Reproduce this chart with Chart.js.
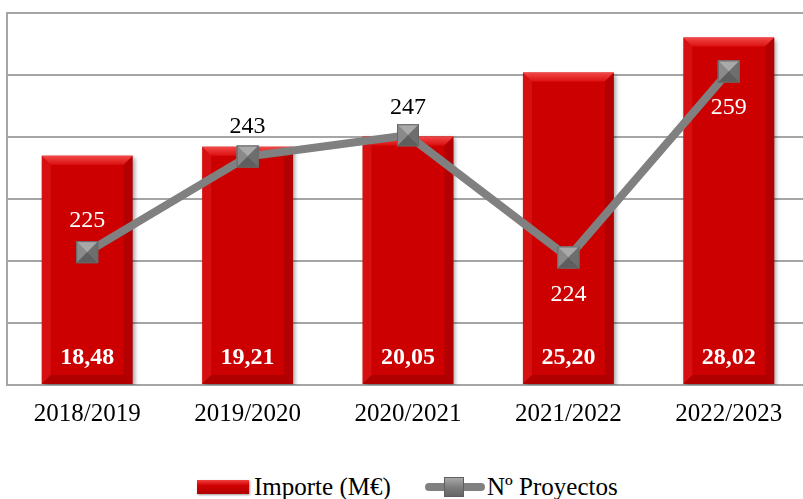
<!DOCTYPE html>
<html>
<head>
<meta charset="utf-8">
<script src="https://cdn.jsdelivr.net/npm/chart.js@4"></script>
<style>
  html, body { margin: 0; padding: 0; background: #fff; overflow: hidden; width: 803px; height: 499px; }
  #wrap { position: absolute; left: 0; top: 0; width: 820px; height: 453px; }
  .legend { position: absolute; top: 472px; height: 30px; font-family: "Liberation Serif", serif; font-size: 25px; color: #000; }
  .lg-item { position: absolute; top: 0; white-space: nowrap; line-height: 30px; }
  .lg-bar { position: absolute; top: 8px; width: 52px; height: 14px; background: linear-gradient(#f04040, #d00000 40%, #b00000); box-shadow: 1px 1px 2px rgba(0,0,0,0.4); }
  .lg-line { position: absolute; top: 11px; width: 60px; height: 8px; border-radius: 4px; background: #808080; }
  .lg-mark { position: absolute; top: 5px; left: 19px; width: 20px; height: 20px; background: linear-gradient(#a8a8a8, #7a7a7a 55%, #666); border: 1px solid #5f5f5f; box-sizing: border-box; }
</style>
</head>
<body>
<div id="wrap"><canvas id="chart" width="820" height="453"></canvas></div>
<div class="legend">
  <div class="lg-item" style="left:197px"><span class="lg-bar" style="left:0"></span><span style="position:absolute;left:57px">Importe (M€)</span></div>
  <div class="lg-item" style="left:425px"><span class="lg-line" style="left:0"></span><span class="lg-mark"></span><span style="position:absolute;left:62px">Nº Proyectos</span></div>
</div>
<script>
const categories = ["2018/2019", "2019/2020", "2020/2021", "2021/2022", "2022/2023"];
const importe = [18.48, 19.21, 20.05, 25.20, 28.02];
const proyectos = [225, 243, 247, 224, 259];
const importeLabels = ["18,48", "19,21", "20,05", "25,20", "28,02"];

const FONT = "'Liberation Serif', serif";
Chart.defaults.font.family = FONT;

// bevel + shadow on bars, bevel on square markers, value labels
const decorPlugin = {
  id: "decor",
  beforeDatasetDraw(chart, args) {
    if (chart.data.datasets[args.index].type === "bar") {
      const ctx = chart.ctx;
      ctx.save();
      ctx.shadowColor = "rgba(0,0,0,0.35)";
      ctx.shadowBlur = 4;
      ctx.shadowOffsetX = 2;
      ctx.shadowOffsetY = 2;
    }
  },
  afterDatasetDraw(chart, args) {
    const ctx = chart.ctx;
    const ds = chart.data.datasets[args.index];
    if (ds.type === "bar") {
      ctx.restore();
      args.meta.data.forEach((bar) => {
        const l = bar.x - bar.width / 2, r = bar.x + bar.width / 2;
        const t = bar.y, b = bar.base, e = 9;
        ctx.save();
        let g = ctx.createLinearGradient(0, t, 0, t + e);
        g.addColorStop(0, "#f24848");
        g.addColorStop(1, "#dc1010");
        ctx.fillStyle = g;
        ctx.beginPath();
        ctx.moveTo(l, t); ctx.lineTo(r, t); ctx.lineTo(r - e, t + e); ctx.lineTo(l + e, t + e);
        ctx.closePath(); ctx.fill();
        ctx.fillStyle = "rgba(255,80,80,0.2)";
        ctx.beginPath();
        ctx.moveTo(l, t); ctx.lineTo(l + e, t + e); ctx.lineTo(l + e, b - e); ctx.lineTo(l, b);
        ctx.closePath(); ctx.fill();
        ctx.fillStyle = "rgba(90,0,0,0.22)";
        ctx.beginPath();
        ctx.moveTo(r, t); ctx.lineTo(r - e, t + e); ctx.lineTo(r - e, b - e); ctx.lineTo(r, b);
        ctx.closePath(); ctx.fill();
        ctx.fillStyle = "rgba(90,0,0,0.25)";
        ctx.beginPath();
        ctx.moveTo(l, b); ctx.lineTo(l + e, b - e); ctx.lineTo(r - e, b - e); ctx.lineTo(r, b);
        ctx.closePath(); ctx.fill();
        ctx.restore();
      });
    } else {
      args.meta.data.forEach((pt) => {
        const s = 11, x = pt.x, y = pt.y;
        ctx.save();
        ctx.fillStyle = "#7c7c7c";
        ctx.fillRect(x - s, y - s, 2 * s, 2 * s);
        const tri = (ax, ay, bx, by, col) => {
          ctx.fillStyle = col;
          ctx.beginPath(); ctx.moveTo(ax, ay); ctx.lineTo(bx, by); ctx.lineTo(x, y); ctx.closePath(); ctx.fill();
        };
        tri(x - s, y - s, x + s, y - s, "#a9a9a9");
        tri(x - s, y - s, x - s, y + s, "#8a8a8a");
        tri(x + s, y - s, x + s, y + s, "#6e6e6e");
        tri(x - s, y + s, x + s, y + s, "#5e5e5e");
        ctx.strokeStyle = "#666";
        ctx.lineWidth = 1;
        ctx.strokeRect(x - s + 0.5, y - s + 0.5, 2 * s - 1, 2 * s - 1);
        ctx.restore();
      });
    }
  },
  afterDatasetsDraw(chart, args, opts) {
    const ctx = chart.ctx;
    ctx.save();
    ctx.textAlign = "center";
    ctx.textBaseline = "middle";
    const barMeta = chart.getDatasetMeta(1);
    ctx.font = "bold 24px " + FONT;
    ctx.fillStyle = "#fff";
    barMeta.data.forEach((bar, i) => {
      ctx.fillText(importeLabels[i], bar.x, chart.chartArea.bottom - 27);
    });
    const lineMeta = chart.getDatasetMeta(0);
    ctx.font = "24px " + FONT;
    lineMeta.data.forEach((pt, i) => {
      ctx.fillStyle = opts.lineLabelColors[i];
      ctx.fillText(String(proyectos[i]), pt.x, pt.y + opts.lineLabelOffsets[i]);
    });
    ctx.restore();
  },
};

new Chart(document.getElementById("chart"), {
  data: {
    labels: categories,
    datasets: [
      {
        type: "line",
        label: "Nº Proyectos",
        data: proyectos,
        yAxisID: "y1",
        borderColor: "#808080",
        borderWidth: 8,
        pointRadius: 0,
        pointHoverRadius: 0,
        tension: 0,
        order: 0,
      },
      {
        type: "bar",
        label: "Importe (M€)",
        data: importe,
        yAxisID: "y",
        backgroundColor: "#cc0000",
        borderWidth: 0,
        categoryPercentage: 1,
        barPercentage: 0.567,
        order: 1,
      },
    ],
  },
  plugins: [decorPlugin],
  options: {
    responsive: false,
    animation: false,
    devicePixelRatio: 1,
    layout: { padding: { left: 7, top: 13, right: 11, bottom: 10 } },
    plugins: {
      legend: { display: false },
      tooltip: { enabled: false },
      decor: {
        lineLabelOffsets: [-31, -30, -28, 37, 36],
        lineLabelColors: ["#fff", "#000", "#000", "#fff", "#fff"],
      },
    },
    scales: {
      x: {
        grid: { display: false, drawTicks: false },
        border: { display: true, color: "#a5a5a5", width: 2 },
        ticks: { color: "#000", font: { size: 25 }, padding: 14 },
      },
      y: {
        min: 0,
        max: 30,
        grid: { color: "#a5a5a5", lineWidth: 2, drawTicks: false },
        border: { display: true, color: "#a5a5a5", width: 2 },
        ticks: { display: false, stepSize: 5 },
      },
      y1: {
        display: false,
        min: 200,
        max: 270,
        position: "right",
        grid: { drawOnChartArea: false },
      },
    },
  },
});
</script>
</body>
</html>
